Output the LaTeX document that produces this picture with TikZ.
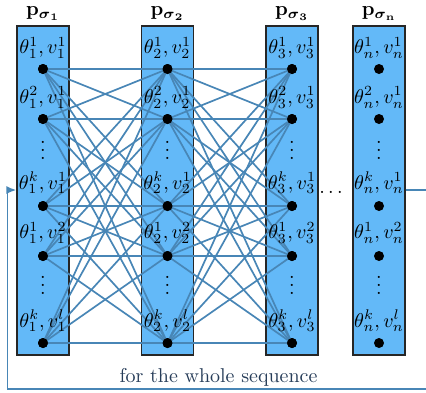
\documentclass[tikz,border=0pt]{standalone}
\usepackage{amsmath,amssymb}
\usetikzlibrary{arrows.meta}
\definecolor{colfill}{RGB}{99,185,248}
\definecolor{linecol}{RGB}{72,134,182}
\definecolor{txtcol}{RGB}{38,60,88}
\tikzset{
  colbox/.style={draw=black!85, fill=colfill, line width=0.6pt, minimum width=26pt, minimum height=164.5pt, inner sep=0pt},
  conn/.style={draw=linecol, line width=0.85pt},
  dotn/.style={circle, fill=black, inner sep=0pt, minimum size=5pt},
  lbl/.style={inner sep=0pt},
}
\begin{document}
\begin{tikzpicture}[x=0.5pt,y=-0.5pt]
\useasboundingbox (0,0) rectangle (426,392);
% columns
\foreach \i/\x in {1/43,2/167.5,3/292,n/379}{
  \node[colbox] (c\i) at (\x,190.5) {};
  \node (h\i) at (\x,14) {$\mathbf{p}_{\boldsymbol{\sigma}_{\mathbf{\i}}}$};
}
% dots
\foreach \i/\x in {1/43,2/167.5,3/292,n/379}{
  \foreach \r/\y in {1/69,2/119,3/206,4/256,5/343}{
    \node[dotn] (d\i\r) at (\x,\y) {};
  }
}
% connections
\foreach \a/\b in {1/2,2/3}{
  \foreach \r in {1,...,5}{
    \foreach \s in {1,...,5}{
      \draw[conn] (d\a\r.center) -- (d\b\s.center);
    }
  }
}
% dots again on top
\foreach \i/\x in {1/43,2/167.5,3/292}{
  \foreach \r/\y in {1/69,2/119,3/206,4/256,5/343}{
    \fill (d\i\r) circle (2.5pt);
  }
}
% labels
\foreach \i/\x in {1/43,2/167.5,3/292,n/379}{
  \node[lbl] (la\i) at (\x,48) {$\theta_{\i}^{1}, v_{\i}^{1}$};
  \node[lbl] (lb\i) at (\x,97.5) {$\theta_{\i}^{2}, v_{\i}^{1}$};
  \node[lbl, anchor=base] (va\i) at (\x,159) {$\vdots$};
  \node[lbl] (lc\i) at (\x,183) {$\theta_{\i}^{k}, v_{\i}^{1}$};
  \node[lbl] (ld\i) at (\x,233) {$\theta_{\i}^{1}, v_{\i}^{2}$};
  \node[lbl, anchor=base] (vb\i) at (\x,294) {$\vdots$};
  \node[lbl] (le\i) at (\x,321) {$\theta_{\i}^{k}, v_{\i}^{l}$};
}
\node[anchor=base] (hd) at (331,193) {$\ldots$};
% feedback loop
\coordinate (lr) at (432,190);
\coordinate (lb) at (432,389);
\coordinate (ll) at (7.5,389);
\coordinate (lt) at (7.5,190);
\draw[conn, -{Latex[length=5pt,width=4pt]}] (cn.east |- lr) -- (lr) -- (lb) -- (ll) -- (lt) -- (c1.west |- lt);
\node[anchor=base, text=txtcol] (txt) at (218.5,382) {for the whole sequence};
\end{tikzpicture}
\end{document}
